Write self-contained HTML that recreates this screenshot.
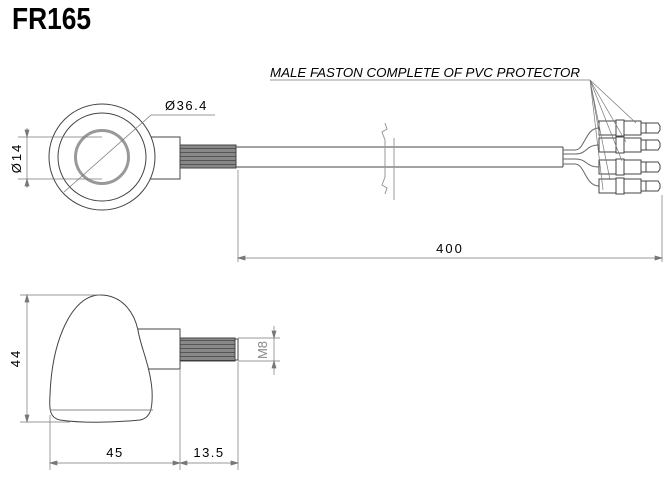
<!DOCTYPE html>
<html><head><meta charset="utf-8"><style>
html,body{margin:0;padding:0;background:#fff;width:672px;height:487px;overflow:hidden}
</style></head><body>
<svg width="672" height="487" viewBox="0 0 672 487" xmlns="http://www.w3.org/2000/svg" font-family="Liberation Sans, sans-serif">
<defs>
<pattern id="thr" width="3" height="4" patternUnits="userSpaceOnUse"><rect width="3" height="4" fill="#888"/><line x1="0" y1="0" x2="3" y2="0" stroke="#333" stroke-width="1.2"/></pattern>
</defs>
<text x="12" y="29" font-size="31" font-weight="bold" transform="translate(12 0) scale(0.85 1) translate(-12 0)">FR165</text>

<!-- top view -->
<g fill="none" stroke="#444" stroke-width="1">
<rect x="102" y="137" width="78" height="42" fill="#fff"/>
<circle cx="102" cy="157" r="53" fill="#fff"/>
<circle cx="102" cy="157" r="44"/>
<circle cx="102" cy="157" r="26.5" stroke="#999" stroke-width="3"/>
<rect x="180" y="145" width="56" height="23" fill="url(#thr)"/>
<path d="M236 147 H563 M236 167 H563 M563 147 V167"/>
<path d="M385 140 l-3 -8 l5 -3 l-2 -6 M385 177 l-3 8 l5 3 l-2 6" stroke="#999"/>
<path d="M394 138 V200 M385 140 V177" stroke="#999"/>
<path d="M563 150 H575 C585 150 585 128 599 128 M563 154 H575 C588 154 585 145 599 145 M563 159 H575 C588 159 585 167 599 167 M563 164 H575 C585 164 585 186 599 186" stroke="#666"/>
</g>
<g fill="#fff" stroke="#444" stroke-width="1">
<g id="c"><rect x="599" y="121" width="42" height="14"/><rect x="616" y="120" width="8" height="16"/><rect x="641" y="123" width="5" height="10"/><path d="M646 123 H658 L660 126 V130 L658 133 H646 Z"/></g>
<use href="#c" y="17"/><use href="#c" y="39"/><use href="#c" y="58"/>
</g>
<g stroke="#777" stroke-width="0.7" fill="none">
<path d="M270 80 H590"/>
<path d="M590 80 L636 123 M590 80 L626 142 M590 80 L622 161 M590 80 L610 180 M590 80 L600 138 M590 80 L603 190"/>
<path d="M238 170 V262 M662 195 V262 M238 258 H662"/>
<path d="M238 258 l7 -2 v4 z M662 258 l-7 -2 v4 z" fill="#777"/>
<path d="M18 137 H102 M18 179 H102 M27 128 V188"/>
<path d="M27 137 l-2 -7 h4 z M27 179 l-2 7 h4 z" fill="#777"/>
<path d="M64 192 L151 115 H215"/>
</g>
<text x="270" y="77" font-size="13" font-style="italic" textLength="310" lengthAdjust="spacingAndGlyphs">MALE FASTON COMPLETE OF PVC PROTECTOR</text>
<text x="450" y="253" font-size="13" text-anchor="middle" letter-spacing="2">400</text>
<text x="165" y="110" font-size="13" letter-spacing="1.5">Ø36.4</text>
<text transform="translate(21 158) rotate(-90)" font-size="13" text-anchor="middle" letter-spacing="2">Ø14</text>

<!-- side view -->
<g fill="#fff" stroke="#444" stroke-width="1">
<rect x="138" y="329" width="42" height="40"/>
<path d="M100 295 C122 295 134 312 138 330 C140 345 150 365 152 390 C153 410 150 418 140 420 C110 423 80 423 60 420 C50 418 49 410 50 395 C52 340 72 295 100 295 Z"/>
<path d="M50 410 H153" stroke="#888"/>
<rect x="180" y="338" width="55" height="23" fill="url(#thr)"/>
<rect x="235" y="339" width="3" height="21"/>
</g>
<g stroke="#777" stroke-width="0.7" fill="none">
<path d="M20 295 H100 M20 422 H70 M27 295 V422"/>
<path d="M27 295 l-2 7 h4 z M27 422 l-2 -7 h4 z" fill="#777"/>
<path d="M50 415 V470 M180 370 V470 M238 362 V470 M50 463 H238"/>
<path d="M50 463 l7 -2 v4 z M180 463 l-7 -2 v4 z M180 463 l7 -2 v4 z M238 463 l-7 -2 v4 z" fill="#777"/>
<path d="M238 338 H280 M238 361 H280 M274 326 V375"/>
<path d="M274 338 l-2 -7 h4 z M274 361 l-2 7 h4 z" fill="#777"/>
</g>
<text transform="translate(20 358) rotate(-90)" font-size="13" text-anchor="middle" letter-spacing="2">44</text>
<text x="115" y="457" font-size="13" text-anchor="middle" letter-spacing="1.5">45</text>
<text x="209" y="457" font-size="13" text-anchor="middle" letter-spacing="1.5">13.5</text>
<text transform="translate(267 350) rotate(-90)" font-size="13" text-anchor="middle" fill="#888">M8</text>
</svg>
</body></html>
